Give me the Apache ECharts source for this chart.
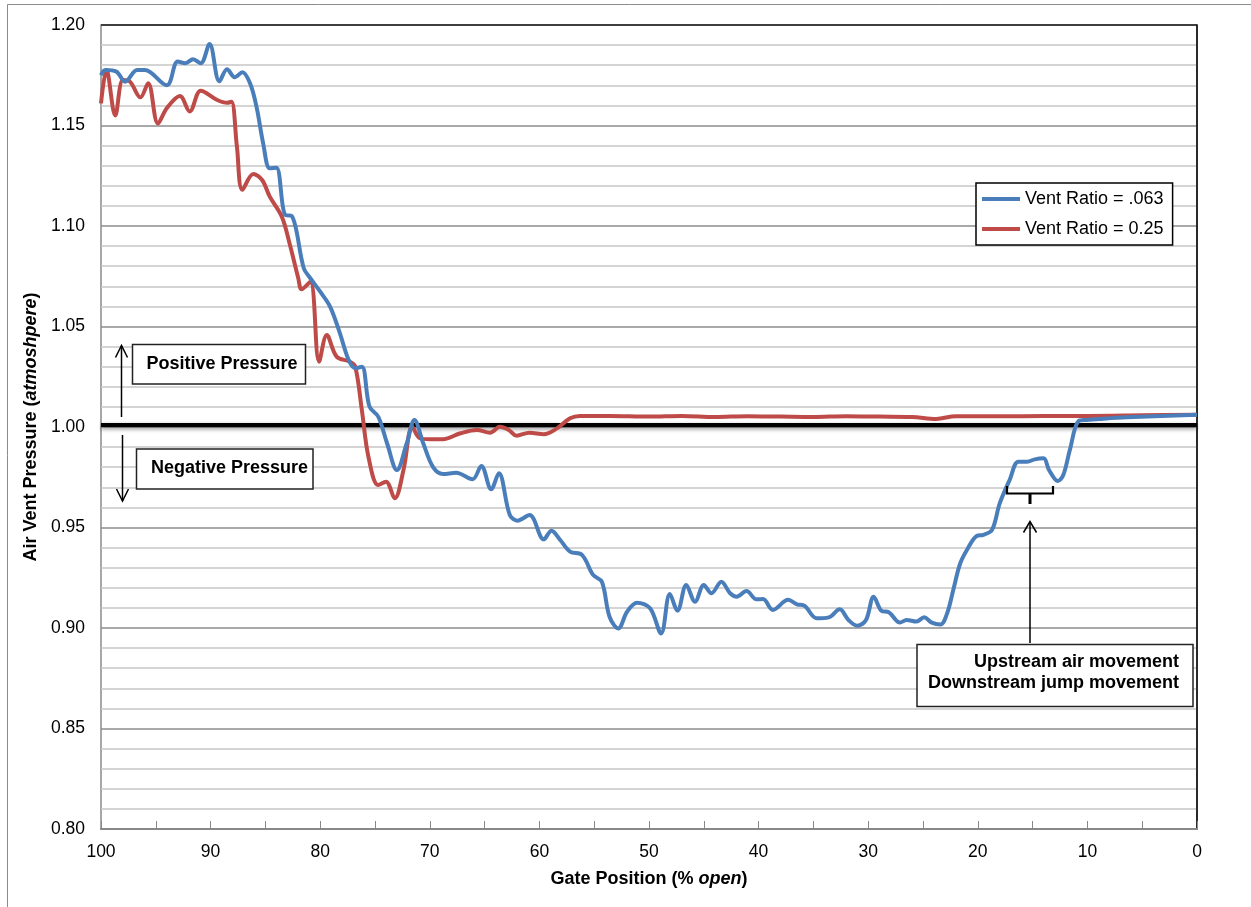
<!DOCTYPE html>
<html>
<head>
<meta charset="utf-8">
<script src="https://cdn.jsdelivr.net/npm/echarts@6/dist/echarts.min.js"></script>
<style>
html,body{margin:0;padding:0;background:#fff;}
#chart{width:1251px;height:907px;}
</style>
</head>
<body>
<div id="chart"></div>
<script>
// ---- data ----
const seriesNames = ['Vent Ratio = .063', 'Vent Ratio = 0.25'];
const yTickValues = [0.80, 0.85, 0.90, 0.95, 1.00, 1.05, 1.10, 1.15, 1.20];
const xTickValues = [100, 90, 80, 70, 60, 50, 40, 30, 20, 10, 0];

// Vent Ratio = .063  [gate % open, pressure atm]
const blueGate = [100,99.6,98.6,97.8,96.7,96.0,94.0,93.0,92.3,91.6,90.9,90.1,89.2,88.5,87.8,87.1,86.4,85.8,85.2,84.6,84.0,83.2,82.6,81.5,80.9,80.0,79.1,78.2,77.4,76.8,76.2,75.5,74.7,73.9,73.0,72.1,71.4,70.6,69.7,68.8,67.6,66.1,65.3,64.4,63.7,62.7,62.0,60.9,59.6,58.9,58.1,57.2,56.1,55.1,54.3,53.6,52.8,52.0,51.1,49.9,48.9,48.1,47.4,46.6,45.8,45.0,44.3,43.4,42.6,42.0,41.1,40.2,39.6,38.7,37.3,36.5,35.8,34.7,33.6,32.6,31.8,31.0,30.2,29.5,28.8,28.1,27.1,26.5,25.6,24.9,24.2,23.4,22.8,22.2,21.6,20.9,20.1,19.5,18.7,18.0,17.1,16.3,15.5,14.8,14.0,13.5,12.7,12.2,11.6,10.8,10.1,8.9,6.4,0];
const bluePressure = [1.175,1.1776,1.1768,1.1718,1.1776,1.1776,1.170,1.1818,1.181,1.183,1.181,1.1905,1.172,1.178,1.174,1.1765,1.171,1.159,1.141,1.1287,1.129,1.1055,1.105,1.079,1.074,1.0673,1.0599,1.0466,1.0333,1.0292,1.030,1.0101,1.0051,0.9919,0.9786,0.9919,1.0035,0.9919,0.980,0.9766,0.9772,0.974,0.9806,0.969,0.977,0.9562,0.9534,0.9562,0.9441,0.9484,0.9438,0.938,0.9363,0.9264,0.923,0.9056,0.8998,0.9081,0.9126,0.9098,0.8973,0.9169,0.9086,0.9214,0.9131,0.9214,0.9173,0.923,0.9173,0.9156,0.9184,0.9143,0.9144,0.909,0.914,0.9118,0.911,0.9048,0.9053,0.9093,0.904,0.9011,0.904,0.9156,0.9086,0.9078,0.9027,0.904,0.9032,0.9053,0.9027,0.9018,0.9073,0.9198,0.9322,0.9397,0.9458,0.9463,0.9488,0.962,0.9736,0.9827,0.9827,0.9839,0.9844,0.9786,0.9731,0.9761,0.9886,1.003,1.0035,1.004,1.0048,1.0061];

// Vent Ratio = 0.25
const redGate = [100,99.5,98.7,98.0,97.4,96.4,95.7,94.8,94.0,92.8,91.9,90.9,89.4,88.5,88.1,87.6,87.1,86.1,85.3,84.6,83.5,82.8,82.0,81.7,80.9,80.1,79.4,78.5,77.3,76.8,76.2,75.6,74.7,74.0,73.2,72.4,71.6,70.9,70.0,68.8,67.2,65.7,64.5,63.6,62.8,62.1,60.9,59.6,58.4,57.2,56.3,53.6,50,47,44,41,38,35,32,29,26,23.8,22,18,14,10,5,0];
const redPressure = [1.161,1.1776,1.155,1.1726,1.172,1.164,1.171,1.151,1.1586,1.1647,1.157,1.1673,1.1627,1.1613,1.1618,1.1395,1.118,1.1259,1.1229,1.1146,1.1046,1.0914,1.074,1.0685,1.0723,1.0325,1.0458,1.035,1.0325,1.030,1.0085,0.9852,0.9711,0.9728,0.9645,0.9786,1.0001,0.9944,0.9939,0.9939,0.9969,0.9985,0.9972,1.0001,0.9985,0.9957,0.9972,0.9964,0.9993,1.0043,1.0055,1.0055,1.0052,1.0055,1.0050,1.0054,1.0052,1.0050,1.0054,1.0052,1.0050,1.0040,1.0054,1.0053,1.0055,1.0055,1.0058,1.0061];

// reference line at 1 atmosphere
const refGate = [100, 0];
const refPressure = [1.001, 1.001];

// ---- chart ----
const FONT = '"Liberation Sans", Arial, sans-serif';
const zip = (a, b) => a.map((v, i) => [v, b[i]]);

const chart = echarts.init(document.getElementById('chart'), null, {renderer: 'canvas'});

function arrowLine(x1, y1, x2, y2) {
  return {type: 'line', shape: {x1, y1, x2, y2}, style: {stroke: '#000', lineWidth: 1.5}, z: 100};
}

const richTitle = {
  b: {fontFamily: FONT, fontSize: 18, fontWeight: 'bold', color: '#000'},
  bi: {fontFamily: FONT, fontSize: 18, fontWeight: 'bold', fontStyle: 'italic', color: '#000'}
};

const option = {
  backgroundColor: '#fff',
  animation: false,
  textStyle: {fontFamily: FONT},
  grid: {left: 101, right: 54, top: 25, bottom: 78, show: true, borderColor: '#8a8a8a', borderWidth: 1.5},
  legend: {
    data: seriesNames,
    orient: 'vertical',
    left: 976, top: 183,
    icon: 'rect', itemWidth: 38, itemHeight: 4, itemGap: 10, itemTextGap: 3,
    padding: [6, 9, 6, 6],
    borderColor: '#000', borderWidth: 1.5, backgroundColor: '#fff',
    textStyle: {fontFamily: FONT, fontSize: 18, color: '#000', lineHeight: 20}
  },
  xAxis: {
    type: 'value', min: 0, max: 100, interval: 10, inverse: true,
    name: '{b|Gate Position (% }{bi|open}{b|)}',
    nameLocation: 'middle', nameGap: 41,
    nameTextStyle: {rich: richTitle},
    axisLine: {show: true, lineStyle: {color: '#888', width: 2}},
    axisTick: {show: true, inside: true, length: 8, lineStyle: {color: '#888'}},
    minorTick: {show: true, splitNumber: 2, length: 8, lineStyle: {color: '#888'}},
    axisLabel: {fontFamily: FONT, fontSize: 17.5, color: '#000', margin: 14},
    splitLine: {show: false}
  },
  yAxis: {
    type: 'value', min: 0.8, max: 1.2, interval: 0.05,
    name: '{b|Air Vent Pressure (}{bi|atmoshpere}{b|)}',
    nameLocation: 'middle', nameGap: 58, nameRotate: 90,
    nameTextStyle: {rich: richTitle},
    axisLine: {show: true, lineStyle: {color: '#000', width: 1.5}},
    axisTick: {show: false},
    axisLabel: {fontFamily: FONT, fontSize: 17.5, color: '#000', margin: 16,
      formatter: v => v.toFixed(2)},
    splitLine: {show: true, lineStyle: {color: '#8c8c8c', width: 1.5}},
    minorTick: {show: false, splitNumber: 5},
    minorSplitLine: {show: true, lineStyle: {color: '#c6c6c6', width: 1.5}}
  },
  series: [
    {
      name: 'ref', type: 'line', data: zip(refGate, refPressure), symbol: 'none',
      lineStyle: {color: '#000', width: 4, shadowColor: 'rgba(0,0,0,0.45)', shadowBlur: 4, shadowOffsetY: 2},
      z: 1, silent: true
    },
    {
      name: seriesNames[0], type: 'line', data: zip(blueGate, bluePressure),
      symbol: 'none', smooth: 0.35, color: '#4A7EBB',
      lineStyle: {color: '#4A7EBB', width: 4}, z: 3
    },
    {
      name: seriesNames[1], type: 'line', data: zip(redGate, redPressure),
      symbol: 'none', smooth: 0.35, color: '#BE4B48',
      lineStyle: {color: '#BE4B48', width: 4}, z: 2
    }
  ],
  graphic: [
    // outer chart border (top & left)
    {type: 'line', shape: {x1: 7.5, y1: 4.5, x2: 1251, y2: 4.5}, style: {stroke: '#8c8c8c', lineWidth: 1}},
    {type: 'line', shape: {x1: 7.5, y1: 4.5, x2: 7.5, y2: 907}, style: {stroke: '#8c8c8c', lineWidth: 1}},
    // dark top frame of plot area
    {type: 'line', shape: {x1: 101, y1: 25, x2: 1197, y2: 25}, style: {stroke: '#222', lineWidth: 1.5}, z: 50},

    // Positive pressure
    {type: 'rect', shape: {x: 132.5, y: 344.5, width: 173, height: 39.5},
      style: {fill: '#fff', stroke: '#222', lineWidth: 1.5}, z: 100},
    {type: 'text', x: 222, y: 364, style: {text: 'Positive Pressure', fontFamily: FONT, fontSize: 18,
      fontWeight: 'bold', fill: '#000', textAlign: 'center', textVerticalAlign: 'middle'}, z: 101},
    arrowLine(121.5, 417, 121.5, 346),
    {type: 'polyline', shape: {points: [[115.5, 357.5], [121.5, 345.5], [127.5, 357.5]]},
      style: {stroke: '#000', lineWidth: 1.5, fill: null}, z: 100},

    // Negative pressure
    {type: 'rect', shape: {x: 136.5, y: 449, width: 176.5, height: 40},
      style: {fill: '#fff', stroke: '#222', lineWidth: 1.5}, z: 100},
    {type: 'text', x: 229.5, y: 468, style: {text: 'Negative Pressure', fontFamily: FONT, fontSize: 18,
      fontWeight: 'bold', fill: '#000', textAlign: 'center', textVerticalAlign: 'middle'}, z: 101},
    arrowLine(122.5, 435, 122.5, 501),
    {type: 'polyline', shape: {points: [[116.5, 489], [122.5, 501], [128.5, 489]]},
      style: {stroke: '#000', lineWidth: 1.5, fill: null}, z: 100},

    // bracket
    {type: 'polyline', shape: {points: [[1007, 486], [1007, 493.5], [1053, 493.5], [1053, 486]]},
      style: {stroke: '#000', lineWidth: 2.2, fill: null}, z: 100},
    {type: 'line', shape: {x1: 1030, y1: 493.5, x2: 1030, y2: 504}, style: {stroke: '#000', lineWidth: 3}, z: 100},

    // upward arrow
    arrowLine(1030, 643, 1030, 522),
    {type: 'polyline', shape: {points: [[1023.5, 532.5], [1030, 521.5], [1036.5, 532.5]]},
      style: {stroke: '#000', lineWidth: 1.5, fill: null}, z: 100},

    // annotation box
    {type: 'rect', shape: {x: 917, y: 644.5, width: 276, height: 62},
      style: {fill: '#fff', stroke: '#222', lineWidth: 1.5}, z: 100},
    {type: 'text', x: 1179, y: 662.5, style: {text: 'Upstream air movement', fontFamily: FONT, fontSize: 18,
      fontWeight: 'bold', fill: '#000', textAlign: 'right', textVerticalAlign: 'middle'}, z: 101},
    {type: 'text', x: 1179, y: 683, style: {text: 'Downstream jump movement', fontFamily: FONT, fontSize: 18,
      fontWeight: 'bold', fill: '#000', textAlign: 'right', textVerticalAlign: 'middle'}, z: 101}
  ]
};

chart.setOption(option);
</script>
</body>
</html>
